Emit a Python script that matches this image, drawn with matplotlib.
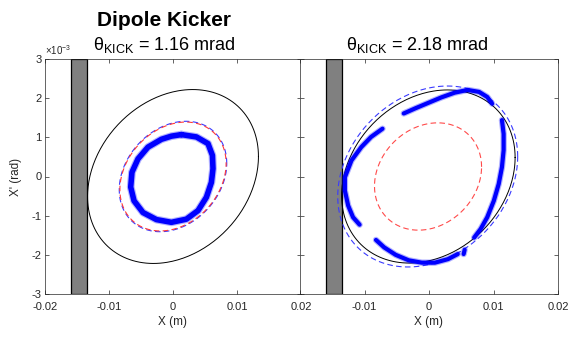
import matplotlib
matplotlib.use('Agg')
import matplotlib.pyplot as plt
import numpy as np

plt.rcParams['font.family'] = ['Liberation Sans', 'DejaVu Sans']
plt.rcParams['mathtext.fontset'] = 'custom'
plt.rcParams['mathtext.rm'] = 'Liberation Sans'
plt.rcParams['mathtext.it'] = 'Liberation Sans:italic'

# ---------------- values (X in mm, X' in mrad) ----------------
kicks = ['1.16', '2.18']
aperture_mm = [-16.0, -13.5]            # gray bar (septum / aperture)

# contour ellipses: (centre x, centre y, x amplitude, x' amplitude, cos of tilt phase)
accept_left = (0.0, 0.0, 13.35, 2.22, 0.23)
red_left = (0.0, 0.0, 8.3, 1.39, 0.24)
bluedash_left = (0.0, 0.0, 8.4, 1.41, 0.24)
accept_right = (-0.1, 0.0, 13.45, 2.21, 0.22)
red_right = (-0.15, 0.0, 8.3, 1.37, 0.18)
bluedash_right = (-0.2, 0.0, 13.95, 2.31, 0.22)

# tracked particles, 1.16 mrad kick (closed ring)
ring_x = [1.31, 3.66, 5.47, 6.16, 6.25, 6.00, 5.22, 3.91, 2.09, -0.25, -2.59,
          -4.69, -6.09, -6.61, -6.41, -5.47, -3.91, -1.81, -0.25, 1.31]
ring_y = [1.07, 1.01, 0.84, 0.54, 0.20, -0.15, -0.53, -0.87, -1.09, -1.17, -1.10,
          -0.92, -0.62, -0.27, 0.11, 0.45, 0.75, 0.95, 1.03, 1.07]

# tracked particles, 2.18 mrad kick (broken into arcs)
arc_top_x = [-3.91, -2.13, -0.11, 1.92, 3.96, 5.98, 7.76, 9.03, 9.79]
arc_top_y = [1.61, 1.74, 1.88, 2.02, 2.14, 2.21, 2.16, 2.03, 1.86]
arc_right_x = [11.31, 11.57, 11.57, 11.31, 10.81, 10.05, 9.03, 8.01, 7.00]
arc_right_y = [1.44, 1.09, 0.67, 0.24, -0.19, -0.62, -1.04, -1.34, -1.56]
arc_blob_x = [5.53, 5.37]
arc_blob_y = [-1.87, -1.98]
arc_bottom_x = [4.46, 2.94, 0.91, -1.12, -3.15, -5.17, -6.95, -8.22]
arc_bottom_y = [-1.98, -2.11, -2.20, -2.20, -2.14, -2.00, -1.81, -1.62]
arc_left_x = [-7.21, -8.98, -10.50, -12.02, -13.04, -13.04, -12.54, -11.78, -10.76]
arc_left_y = [1.22, 1.01, 0.75, 0.41, -0.02, -0.36, -0.74, -1.04, -1.23]

xticks = [-0.02, -0.01, 0, 0.01, 0.02]
yticks = [-3, -2, -1, 0, 1, 2, 3]

TXT = '#262626'


def ellipse(ax, p, **kw):
    xc, yc, a, b, cd = p
    t = np.linspace(0, 2 * np.pi, 300)
    d = np.arccos(cd)
    ax.plot((xc + a * np.cos(t)) * 1e-3, (yc + b * np.cos(t - d)) * 1e-3, **kw)


def band(ax, x, y, lw):
    x = np.array(x) * 1e-3
    y = np.array(y) * 1e-3
    ax.plot(x, y, color='blue', lw=lw + 1.6, alpha=0.3, solid_capstyle='round',
            solid_joinstyle='round', zorder=4)
    ax.plot(x, y, color='blue', lw=lw, solid_capstyle='round',
            solid_joinstyle='round', zorder=5)


fig = plt.figure(figsize=(5.77, 3.40), dpi=100)
axL = fig.add_axes([45 / 577, 46 / 340, 256 / 577, 235 / 340])
axR = fig.add_axes([300 / 577, 46 / 340, 258 / 577, 235 / 340])

for ax in (axL, axR):
    ax.set_xlim(-0.02, 0.02)
    ax.set_ylim(-3e-3, 3e-3)
    ax.axvspan(aperture_mm[0] * 1e-3, aperture_mm[1] * 1e-3, facecolor='#808080',
               edgecolor='black', lw=0.9, zorder=2)
    ax.set_xticks(xticks)
    ax.set_yticks([v * 1e-3 for v in yticks])
    ax.tick_params(direction='in', length=3, width=0.5, top=True, right=True,
                   labelsize=8, colors=TXT)
    ax.tick_params(axis='x', pad=6)
    ax.tick_params(axis='y', pad=2.5)
    for s in ax.spines.values():
        s.set_color(TXT)
        s.set_linewidth(0.5)
    ax.set_xlabel('X (m)', fontsize=8.5, color=TXT)
    ax.xaxis.set_label_coords(0.5, -0.095)

dash = (0, (5, 3))
ellipse(axL, accept_left, color='black', lw=0.7, zorder=3)
ellipse(axL, bluedash_left, color='#3a3aff', lw=0.8, ls=dash, zorder=3)
ellipse(axL, red_left, color='#ff3a3a', lw=0.8, ls=(4, (5, 3)), zorder=3)
band(axL, ring_x, ring_y, 4.0)

ellipse(axR, accept_right, color='black', lw=0.7, zorder=3)
ellipse(axR, bluedash_right, color='#3a3aff', lw=0.8, ls=dash, zorder=3)
ellipse(axR, red_right, color='#ff4a4a', lw=0.8, ls=dash, zorder=3)
for xs, ys in [(arc_top_x, arc_top_y), (arc_right_x, arc_right_y),
               (arc_bottom_x, arc_bottom_y), (arc_left_x, arc_left_y),
               (arc_blob_x, arc_blob_y)]:
    band(axR, xs, ys, 3.0)

axL.set_xticklabels(['-0.02', '-0.01', '0', '0.01', '0.02'])
axR.set_xticklabels(['', '-0.01', '0', '0.01', '0.02'])
axL.set_yticklabels([str(v) for v in yticks])
axR.set_yticklabels([])
axL.set_ylabel("X' (rad)", fontsize=8.5, color=TXT)
axL.yaxis.set_label_coords(-0.09, 0.5)
axL.text(0.0, 1.01, r'$\times$10$^{-3}$', transform=axL.transAxes, fontsize=7,
         color=TXT, ha='left', va='bottom')

fig.text(164 / 577, 1 - 20 / 340, 'Dipole Kicker', fontsize=15, fontweight='bold',
         ha='center', va='center')
fig.text(164 / 577, 1 - 45 / 340, r'θ$_{\mathrm{KICK}}$ = ' + kicks[0] + ' mrad',
         fontsize=13, ha='center', va='center')
fig.text(417 / 577, 1 - 45 / 340, r'θ$_{\mathrm{KICK}}$ = ' + kicks[1] + ' mrad',
         fontsize=13, ha='center', va='center')

fig.savefig('out.png', dpi=100)
